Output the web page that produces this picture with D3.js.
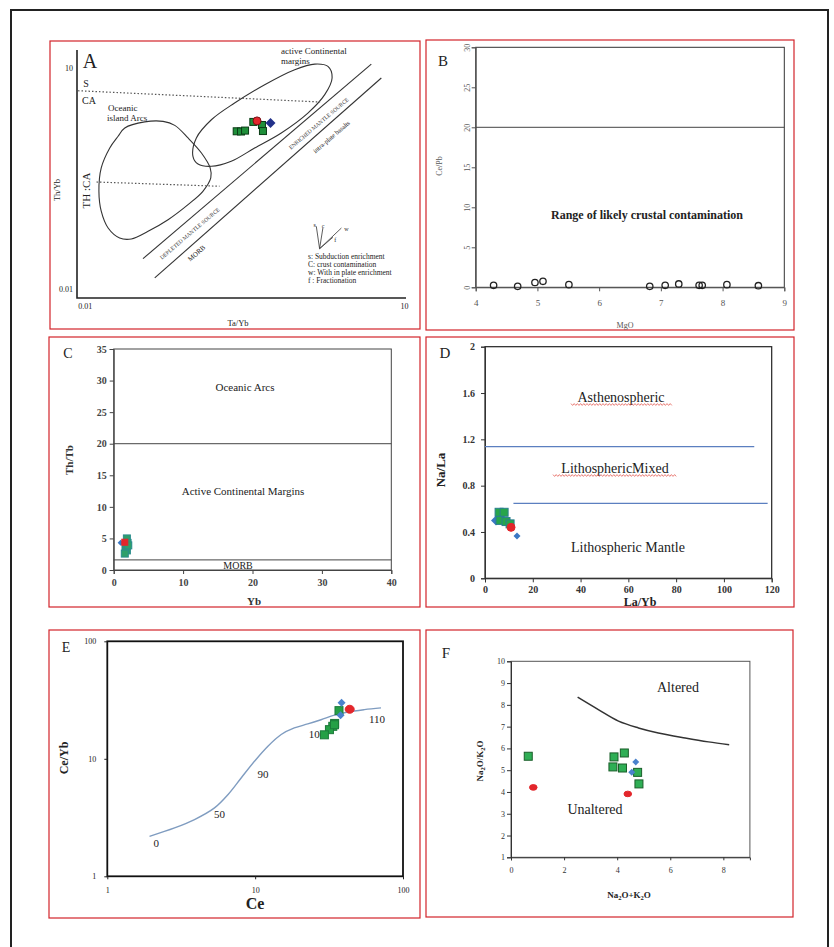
<!DOCTYPE html>
<html>
<head>
<meta charset="utf-8">
<script src="https://cdn.jsdelivr.net/npm/d3@7"></script>
<style>
  body { margin: 0; background: #fff; }
  text { font-family: "Liberation Serif", "Times New Roman", serif; }
</style>
</head>
<body>
<svg id="fig" width="834" height="947"></svg>
<script>
/* ---- A : Th/Yb vs Ta/Yb (log-log) ---- */
var oceanicArcA = [[0.0238,1.53],[0.0366,1.85],[0.0545,1.88],[0.0702,1.66],[0.0935,1.12],[0.125,0.70],[0.151,0.438],[0.153,0.320],[0.129,0.211],[0.0935,0.139],[0.0607,0.0867],[0.0394,0.0603],[0.0274,0.0474],[0.0213,0.0489],[0.0166,0.0668],[0.0143,0.113],[0.0136,0.211],[0.0143,0.438],[0.0172,0.818],[0.0206,1.18]];
var contMarginA = [[0.104,0.631],[0.112,1.12],[0.155,1.98],[0.256,3.34],[0.491,5.93],[0.940,9.48],[1.45,11.3],[1.93,10.5],[2.11,7.31],[1.80,4.34],[1.25,2.44],[0.703,1.31],[0.395,0.818],[0.238,0.540],[0.155,0.461],[0.116,0.496]];
var mantleUpperA = [[0.0353,0.0256],[4.93,11.3]];
var mantleLowerA = [[0.0455,0.0140],[6.12,7.31]];
var dotUpperA = [[0.00865,4.91],[1.63,3.45]];
var dotLowerA = [[0.0129,0.282],[0.185,0.247]];
var vecOriginA = [1.61,0.035];
var vecEndsA = [[1.50,0.0705],[1.73,0.0668],[2.58,0.0668],[2.15,0.050]];
var greenA = [[0.268,1.38],[0.294,1.37],[0.321,1.41],[0.384,1.85],[0.463,1.68],[0.473,1.39]];
var blueA = [[0.557,1.79]];
var redA = [[0.416,1.91]];
var ticksA = [0.01,10];

/* ---- B : Ce/Pb vs MgO ---- */
var mgoB = [4.29,4.68,4.96,5.09,5.51,6.82,7.07,7.29,7.62,7.67,8.07,8.58];
var cePbB = [0.25,0.12,0.6,0.75,0.33,0.12,0.25,0.42,0.25,0.25,0.33,0.2];
var limitB = 20;
var xTicksB = [4,5,6,7,8,9];
var yTicksB = [0,5,10,15,20,25,30];

/* ---- C : Th/Tb vs Yb ---- */
var greenC = [[1.9,5.0],[2.0,4.3],[1.7,3.6],[1.9,3.1],[1.6,2.6],[2.1,3.9]];
var blueC = [[1.0,4.3]];
var redC = [[1.6,4.4]];
var limitsC = [20,1.6];
var xTicksC = [0,10,20,30,40];
var yTicksC = [0,5,10,15,20,25,30,35];

/* ---- D : Na/La vs La/Yb ---- */
var greenD = [[5.9,0.57],[8.0,0.57],[6.3,0.50],[8.8,0.49],[10.5,0.47]];
var blueD = [[4.6,0.50],[13.4,0.365]];
var redD = [[10.9,0.44]];
var upperLineD = [[0,1.137],[112.7,1.137]];
var lowerLineD = [[11.9,0.647],[118.3,0.647]];
var xTicksD = [0,20,40,60,80,100,120];
var yTicksD = [0,0.4,0.8,1.2,1.6,2];

/* ---- E : Ce/Yb vs Ce (log-log) ---- */
var meltCe   = [1.93,2.85,3.89,5.31,6.54,8.04,9.89,12.2,15.0,18.4,22.7,27.9,34.4,42.3,54.8,71.0];
var meltCeYb = [2.19,2.58,3.04,3.82,4.95,6.87,9.52,12.8,16.1,18.3,19.8,21.5,23.5,25.0,26.2,27.1];
var meltLabels = ["0","50","90","100","110"];
var meltLabelCe = [2.14,5.75,11.3,26.2,66.7];
var meltLabelCeYb = [1.92,3.41,7.47,16.3,21.9];
var greenE = [[36.9,25.7],[34.5,20.0],[33.5,18.9],[31.8,17.7],[29.4,16.0],[34.4,19.5]];
var blueE = [[38.4,30.0],[37.8,23.5]];
var redE = [[43.6,26.4]];
var ticksE = [1,10,100];

/* ---- F : Na2O/K2O vs Na2O+K2O ---- */
var alterF = [[2.51,8.35],[3.29,7.78],[4.05,7.25],[4.80,6.94],[5.55,6.71],[6.56,6.48],[7.44,6.30],[8.22,6.17]];
var greenF = [[0.65,5.64],[3.88,5.61],[4.27,5.79],[3.84,5.15],[4.20,5.10],[4.77,4.90],[4.82,4.37]];
var blueF = [[4.70,5.38],[4.55,4.90]];
var redF = [[0.84,4.21],[4.40,3.91]];
var xTicksF = [0,2,4,6,8];
var yTicksF = [1,2,3,4,5,6,7,8,9,10];

var svg = d3.select("#fig");
var RED = "#e3262b";

/* outer frame and red panel frames */
svg.append("rect").attr("x",11).attr("y",10).attr("width",817).attr("height",960)
  .attr("fill","none").attr("stroke","#222").attr("stroke-width",2);
var frames = [[50,41,420,329],[426,40,794,330],[49,337,420,607],[426,337,794,607],[49,630,420,918],[426,630,793,917]];
frames.forEach(function(f) {
  svg.append("rect").attr("x",f[0]).attr("y",f[1]).attr("width",f[2]-f[0]).attr("height",f[3]-f[1])
    .attr("fill","none").attr("stroke","#d2232a").attr("stroke-width",1.2);
});

/* helpers */
function styleAxis(g, font, size, color, weight) {
  g.attr("font-family", font).attr("font-size", size);
  g.selectAll("text").attr("fill", color).attr("font-weight", weight || "normal");
  g.selectAll("line,path").attr("stroke", color);
}
function txt(x, y, s, size, opt) {
  opt = opt || {};
  var t = svg.append("text").attr("x", x).attr("y", y).attr("font-size", size)
    .attr("text-anchor", opt.anchor || "middle").attr("fill", opt.fill || "#222").text(s);
  if (opt.bold) t.attr("font-weight", "bold");
  if (opt.sans) t.attr("font-family", "'Liberation Sans', Arial, sans-serif");
  if (opt.rot) t.attr("transform", "rotate(" + opt.rot + "," + x + "," + y + ")");
  return t;
}
function squares(g, pts, x, y, size, fill, stroke) {
  g.selectAll(null).data(pts).enter().append("rect")
    .attr("x", function(d) { return x(d[0]) - size/2; })
    .attr("y", function(d) { return y(d[1]) - size/2; })
    .attr("width", size).attr("height", size)
    .attr("fill", fill).attr("stroke", stroke).attr("stroke-width", 1);
}
function dots(g, pts, x, y, rx, ry, fill, stroke) {
  g.selectAll(null).data(pts).enter().append("ellipse")
    .attr("cx", function(d) { return x(d[0]); }).attr("cy", function(d) { return y(d[1]); })
    .attr("rx", rx).attr("ry", ry).attr("fill", fill).attr("stroke", stroke).attr("stroke-width", 1);
}
function diamonds(g, pts, x, y, r, fill) {
  g.selectAll(null).data(pts).enter().append("path")
    .attr("d", "M0," + (-r) + "L" + r + ",0L0," + r + "L" + (-r) + ",0Z")
    .attr("transform", function(d) { return "translate(" + x(d[0]) + "," + y(d[1]) + ")"; })
    .attr("fill", fill);
}
function squiggle(x0, x1, y) {
  var pts = d3.range(x0, x1, 1.6).map(function(v, i) { return [v, y + (i % 2 ? 0.9 : -0.9)]; });
  svg.append("path").attr("d", d3.line()(pts)).attr("fill","none").attr("stroke","#e0463c").attr("stroke-width",0.7);
}

/* ================= A ================= */
var gA = svg.append("g");
var xA = d3.scaleLog().domain([0.01,10]).range([84.7,404]);
var yA = d3.scaleLog().domain([0.01,10]).range([288.7,68]);
var lineA = d3.line().x(function(d) { return xA(d[0]); }).y(function(d) { return yA(d[1]); });

gA.append("path").attr("d","M77,50V298H406").attr("fill","none").attr("stroke","#222").attr("stroke-width",1.6);
var axA = gA.append("g").attr("transform","translate(77,0)")
  .call(d3.axisLeft(yA).tickValues(ticksA).tickSize(0).tickPadding(4).tickFormat(d3.format("")));
axA.select(".domain").remove(); styleAxis(axA, "Liberation Serif", 8, "#222");
var bxA = gA.append("g").attr("transform","translate(0,298)")
  .call(d3.axisBottom(xA).tickValues(ticksA).tickSize(0).tickPadding(5).tickFormat(d3.format("")));
bxA.select(".domain").remove(); styleAxis(bxA, "Liberation Serif", 8, "#222");

gA.append("path").datum(oceanicArcA).attr("d", lineA.curve(d3.curveCatmullRomClosed))
  .attr("fill","none").attr("stroke","#333").attr("stroke-width",1.1);
gA.append("path").datum(contMarginA).attr("d", lineA.curve(d3.curveCatmullRomClosed))
  .attr("fill","none").attr("stroke","#333").attr("stroke-width",1.1);
lineA.curve(d3.curveLinear);
[mantleUpperA, mantleLowerA].forEach(function(l) {
  gA.append("path").datum(l).attr("d", lineA).attr("stroke","#333").attr("stroke-width",1.1);
});
[dotUpperA, dotLowerA].forEach(function(l) {
  gA.append("path").datum(l).attr("d", lineA).attr("stroke","#555").attr("stroke-width",1.2).attr("stroke-dasharray","1.5,2");
});
vecEndsA.forEach(function(e) {
  gA.append("path").datum([vecOriginA, e]).attr("d", lineA).attr("stroke","#333").attr("stroke-width",0.8);
});
squares(gA, greenA, xA, yA, 7, "#1f8f3a", "#0b3d16");
diamonds(gA, blueA, xA, yA, 5, "#23318a");
dots(gA, redA, xA, yA, 4, 4, RED, "#7a1015");

var angA = Math.atan2(yA(mantleUpperA[1][1]) - yA(mantleUpperA[0][1]),
                      xA(mantleUpperA[1][0]) - xA(mantleUpperA[0][0])) * 180 / Math.PI;
txt(90, 68, "A", 20);
txt(86, 86.5, "S", 10);
txt(89, 103.5, "CA", 10);
txt(90, 190.5, "TH :CA", 11, {rot: -90});
txt(108, 111, "Oceanic", 9, {anchor: "start"});
txt(107, 121, "island Arcs", 9, {anchor: "start"});
txt(281, 54, "active Continental", 9, {anchor: "start"});
txt(281, 64, "margins", 9, {anchor: "start"});
txt(60, 190, "Th/Yb", 8.5, {rot: -90});
txt(238, 326, "Ta/Yb", 8.5);
txt(191, 235, "DEPLETED MANTLE SOURCE", 5.6, {rot: angA, fill: "#444"});
txt(320, 125, "ENRICHED MANTLE SOURCE", 5.6, {rot: angA, fill: "#444"});
txt(198, 255, "MORB", 7, {rot: angA});
txt(333, 138.5, "intra-plate basalts", 6.5, {rot: angA});
txt(314.7, 226.5, "s", 6); txt(323, 227.5, "c", 6);
txt(346.3, 230.5, "w", 6); txt(335.3, 241.5, "f", 6);
txt(308, 259, "s: Subduction enrichment", 7.5, {anchor: "start"});
txt(308, 267, "C: crust contamination", 7.5, {anchor: "start"});
txt(308, 275, "w: With in plate enrichment", 7.5, {anchor: "start"});
txt(308, 283, "f : Fractionation", 7.5, {anchor: "start"});

/* ================= B ================= */
var gB = svg.append("g");
var xB = d3.scaleLinear().domain([4,9]).range([475.7,784.3]);
var yB = d3.scaleLinear().domain([0,30]).range([287.3,47.3]);
gB.append("rect").attr("x", xB(4)).attr("y", yB(30)).attr("width", xB(9)-xB(4)).attr("height", yB(0)-yB(30))
  .attr("fill","none").attr("stroke","#333").attr("stroke-width",1);
var ayB = gB.append("g").attr("transform","translate(" + xB(4) + ",0)")
  .call(d3.axisLeft(yB).tickValues(yTicksB).tickSize(4).tickFormat(d3.format("d")));
styleAxis(ayB, "Liberation Sans", 8, "#555");
ayB.selectAll("text").attr("x",0).attr("y",-6).attr("dy",0).attr("text-anchor","middle").attr("transform","rotate(-90)");
var axB = gB.append("g").attr("transform","translate(0," + yB(0) + ")")
  .call(d3.axisBottom(xB).tickValues(xTicksB).tickSize(4).tickPadding(8).tickFormat(d3.format("d")));
styleAxis(axB, "Liberation Sans", 9, "#555");
gB.append("line").attr("x1", xB(4)).attr("x2", xB(9)).attr("y1", yB(limitB)).attr("y2", yB(limitB))
  .attr("stroke","#444").attr("stroke-width",1);
gB.selectAll(null).data(mgoB).enter().append("circle")
  .attr("cx", function(d) { return xB(d); }).attr("cy", function(d, i) { return yB(cePbB[i]); })
  .attr("r", 3.2).attr("fill","none").attr("stroke","#222").attr("stroke-width",1.3);
txt(443, 66, "B", 15);
txt(442, 166, "Ce/Pb", 8, {rot: -90, sans: true, fill: "#555"});
txt(625, 328, "MgO", 8, {sans: true, fill: "#555"});
txt(647, 219, "Range of likely crustal contamination", 12, {bold: true});

/* ================= C ================= */
var gC = svg.append("g");
var xC = d3.scaleLinear().domain([0,40]).range([113.7,391.3]);
var yC = d3.scaleLinear().domain([0,35]).range([570,349]);
gC.append("rect").attr("x", xC(0)).attr("y", yC(35)).attr("width", xC(40)-xC(0)).attr("height", yC(0)-yC(35))
  .attr("fill","none").attr("stroke","#444").attr("stroke-width",1);
var ayC = gC.append("g").attr("transform","translate(" + xC(0) + ",0)")
  .call(d3.axisLeft(yC).tickValues(yTicksC).tickSize(4).tickPadding(3));
styleAxis(ayC, "Liberation Sans", 10, "#444", "bold");
var axC = gC.append("g").attr("transform","translate(0," + yC(0) + ")")
  .call(d3.axisBottom(xC).tickValues(xTicksC).tickSize(4).tickPadding(5));
styleAxis(axC, "Liberation Sans", 10, "#444", "bold");
limitsC.forEach(function(v) {
  gC.append("line").attr("x1", xC(0)).attr("x2", xC(40)).attr("y1", yC(v)).attr("y2", yC(v))
    .attr("stroke","#444").attr("stroke-width",1);
});
squares(gC, greenC, xC, yC, 7, "#2ea06a", "#2a8d8d");
diamonds(gC, blueC, xC, yC, 3, "#3a78c4");
squares(gC, redC, xC, yC, 6, RED, RED);
txt(68, 358, "C", 14);
txt(245, 390.5, "Oceanic Arcs", 11);
txt(243, 494.5, "Active Continental  Margins", 11);
txt(238, 568.5, "MORB", 10);
txt(73, 460, "Th/Tb", 11, {rot: -90, bold: true, sans: true, fill: "#333"});
txt(254, 605, "Yb", 11, {bold: true, sans: true, fill: "#333"});

/* ================= D ================= */
var gD = svg.append("g");
var xD = d3.scaleLinear().domain([0,120]).range([485,771.7]);
var yD = d3.scaleLinear().domain([0,2]).range([578.3,346.7]);
var lineD = d3.line().x(function(d) { return xD(d[0]); }).y(function(d) { return yD(d[1]); });
gD.append("rect").attr("x", xD(0)).attr("y", yD(2)).attr("width", xD(120)-xD(0)).attr("height", yD(0)-yD(2))
  .attr("fill","none").attr("stroke","#222").attr("stroke-width",1.2);
var ayD = gD.append("g").attr("transform","translate(" + xD(0) + ",0)")
  .call(d3.axisLeft(yD).tickValues(yTicksD).tickSize(4).tickPadding(6).tickFormat(d3.format("")));
styleAxis(ayD, "Liberation Sans", 10, "#333", "bold");
var axD = gD.append("g").attr("transform","translate(0," + yD(0) + ")")
  .call(d3.axisBottom(xD).tickValues(xTicksD).tickSize(4).tickPadding(4));
styleAxis(axD, "Liberation Sans", 10, "#333", "bold");
[upperLineD, lowerLineD].forEach(function(l) {
  gD.append("path").datum(l).attr("d", lineD).attr("stroke","#5b7fc0").attr("stroke-width",1.3);
});
diamonds(gD, blueD.slice(0,1), xD, yD, 5, "#3a78c4");
squares(gD, greenD, xD, yD, 8, "#27a54b", "#2a7f8f");
dots(gD, redD, xD, yD, 4, 4, RED, RED);
diamonds(gD, blueD.slice(1), xD, yD, 3.5, "#3a78c4");
txt(445, 358, "D", 15);
txt(621, 401.5, "Asthenospheric", 14); squiggle(571, 672, 404.5);
txt(615, 472.5, "LithosphericMixed", 14); squiggle(553, 677, 475.5);
txt(628, 551.5, "Lithospheric Mantle", 14);
txt(445, 470, "Na/La", 13, {rot: -90, bold: true});
txt(640, 606, "La/Yb", 12, {bold: true});

/* ================= E ================= */
var gE = svg.append("g");
var xE = d3.scaleLog().domain([1,100]).range([107.3,403]);
var yE = d3.scaleLog().domain([1,100]).range([876.3,641.3]);
gE.append("rect").attr("x", xE(1)).attr("y", yE(100)).attr("width", xE(100)-xE(1)).attr("height", yE(1)-yE(100))
  .attr("fill","none").attr("stroke","#111").attr("stroke-width",1.8);
var ayE = gE.append("g").attr("transform","translate(" + xE(1) + ",0)")
  .call(d3.axisLeft(yE).tickValues(ticksE).tickSize(3).tickPadding(8).tickFormat(d3.format("")));
ayE.select(".domain").remove(); styleAxis(ayE, "Liberation Serif", 8, "#222");
var axE = gE.append("g").attr("transform","translate(0," + yE(1) + ")")
  .call(d3.axisBottom(xE).tickValues(ticksE).tickSize(3).tickPadding(8).tickFormat(d3.format("")));
axE.select(".domain").remove(); styleAxis(axE, "Liberation Serif", 8, "#222");
gE.append("path").datum(meltCe)
  .attr("d", d3.line().curve(d3.curveCatmullRom)
    .x(function(d) { return xE(d); }).y(function(d, i) { return yE(meltCeYb[i]); }))
  .attr("fill","none").attr("stroke","#7f9cc0").attr("stroke-width",1.4);
gE.selectAll(null).data(meltLabels).enter().append("text")
  .attr("x", function(d, i) { return xE(meltLabelCe[i]); })
  .attr("y", function(d, i) { return yE(meltLabelCeYb[i]) + 4; })
  .attr("text-anchor","middle").attr("font-size",11).attr("fill","#222").text(function(d) { return d; });
squares(gE, greenE, xE, yE, 8, "#25a046", "#1c7a3a");
diamonds(gE, blueE, xE, yE, 4, "#4a82cc");
dots(gE, redE, xE, yE, 4.5, 4, RED, RED);
txt(66, 652, "E", 14);
txt(68, 758, "Ce/Yb", 12, {rot: -90, bold: true});
txt(255, 909, "Ce", 16, {bold: true, sans: true});

/* ================= F ================= */
var gF = svg.append("g");
var xF = d3.scaleLinear().domain([0,9]).range([511,749.9]);
var yF = d3.scaleLinear().domain([1,10]).range([857.3,661.3]);
gF.append("rect").attr("x", xF(0)).attr("y", yF(10)).attr("width", xF(9)-xF(0)).attr("height", yF(1)-yF(10))
  .attr("fill","none").attr("stroke","#555").attr("stroke-width",1);
var ayF = gF.append("g").attr("transform","translate(" + xF(0) + ",0)")
  .call(d3.axisLeft(yF).tickValues(yTicksF).tickSize(4).tickPadding(2));
styleAxis(ayF, "Liberation Serif", 8, "#333");
var axF = gF.append("g").attr("transform","translate(0," + yF(1) + ")")
  .call(d3.axisBottom(xF).tickValues(xTicksF).tickSize(3).tickPadding(7));
styleAxis(axF, "Liberation Serif", 8, "#333");
gF.append("path").datum(alterF)
  .attr("d", d3.line().curve(d3.curveCatmullRom).x(function(d) { return xF(d[0]); }).y(function(d) { return yF(d[1]); }))
  .attr("fill","none").attr("stroke","#333").attr("stroke-width",1.5);
squares(gF, greenF, xF, yF, 8, "#2fae55", "#1b5e2a");
diamonds(gF, blueF, xF, yF, 3.5, "#4a82cc");
dots(gF, redF, xF, yF, 3.8, 2.8, RED, RED);
txt(446, 658, "F", 15);
txt(678, 692, "Altered", 14);
txt(595, 814, "Unaltered", 14);
var tyF = txt(483, 761, "", 9, {rot: -90, bold: true});
[["Na",0],["2",1],["O/K",0],["2",1],["O",0]].forEach(function(p) {
  tyF.append("tspan").attr("font-size", p[1] ? 6.5 : 9).attr("dy", p[1] ? 2 : (p[0] === "Na" ? 0 : -2)).text(p[0]);
});
var txF = txt(629, 898, "", 9, {bold: true});
[["Na",0],["2",1],["O+K",0],["2",1],["O",0]].forEach(function(p) {
  txF.append("tspan").attr("font-size", p[1] ? 6.5 : 9).attr("dy", p[1] ? 2 : (p[0] === "Na" ? 0 : -2)).text(p[0]);
});
</script>
</body>
</html>
